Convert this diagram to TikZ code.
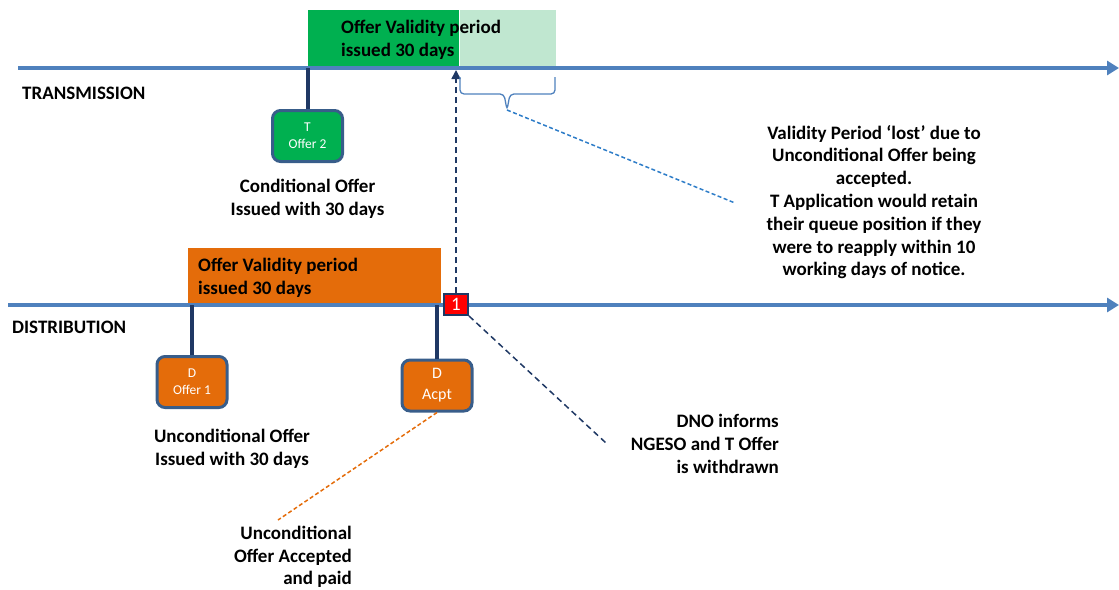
\documentclass[tikz,border=0pt]{standalone}
\usepackage{fontspec}
\setmainfont{Carlito}
\usetikzlibrary{arrows.meta,positioning}
\definecolor{axisblue}{RGB}{79,129,189}
\definecolor{edgeblue}{RGB}{56,93,138}
\definecolor{navy}{RGB}{31,56,100}
\definecolor{tgreen}{RGB}{0,176,80}
\definecolor{tlight}{RGB}{192,231,208}
\definecolor{dorange}{RGB}{228,108,10}
\definecolor{lostblue}{RGB}{46,125,200}
\tikzset{
  axis/.style={draw=axisblue,line width=4.5pt,-{Triangle[length=12pt,width=14pt]}},
  stem/.style={draw=navy,line width=4pt},
  offer/.style={draw=edgeblue,line width=3pt,rounded corners=8pt,minimum width=70pt,minimum height=51pt,text=white,align=center,inner sep=0pt,font=\fontsize{13.5}{17}\selectfont},
  period/.style={minimum height=58pt,anchor=south west,inner sep=0pt},
  lbl/.style={font=\fontsize{19}{22.8}\selectfont\bfseries,inner sep=0pt},
  cue/.style={draw=navy,line width=1.5pt,dash pattern=on 6pt off 4pt},
}
\newcommand{\twoline}[2]{#1\\#2}

\begin{document}
\begin{tikzpicture}[x=1pt,y=-1pt]
  \useasboundingbox (0,0) rectangle (1119,589);
  \coordinate (tl) at (18,68);
  \coordinate (tr) at (1119,68);
  \coordinate (dl) at (8,305);
  \coordinate (dr) at (1119,305);
  \node[period,fill=tgreen,minimum width=151pt] (tvalid) at (308,68) {};
  \node[period,fill=tlight,minimum width=96pt] (tlost) at (tvalid.south east) {};
  \node[lbl,anchor=west,align=left] (ttext) at (341,40) {\twoline{Offer Validity period}{issued 30 days}};
  \node[period,fill=dorange,minimum width=253pt,minimum height=57pt] (dvalid) at (188,305) {};
  \node[lbl,anchor=west,align=left] (dtext) at (198,278) {\twoline{Offer Validity period}{issued 30 days}};
  \draw[axis] (tl) -- (tr);
  \draw[axis] (dl) -- (dr);
  \node[lbl,anchor=west] (tlabel) at (22,93) {TRANSMISSION};
  \node[lbl,anchor=west] (dlabel) at (12,327) {DISTRIBUTION};
  \node[offer,fill=tgreen] (t2) at (307.5,136) {\twoline{T}{Offer 2}};
  \node[offer,fill=dorange] (d1) at (192,382) {\twoline{D}{Offer 1}};
  \node[offer,fill=dorange,font=\fontsize{16}{21}\selectfont] (dacpt) at (437,385.5) {\twoline{D}{Acpt}};
  \draw[stem] (t2.north) -- (t2.north |- tl);
  \draw[stem] (d1.north) -- (d1.north |- dl);
  \draw[stem] (dacpt.north) -- (dacpt.north |- dl);
  \node[lbl,below=16pt of t2,align=center] (t2cap) {\twoline{Conditional Offer}{Issued with 30 days}};
  \node[lbl,below=20pt of d1,xshift=40pt,align=center] (d1cap) {\twoline{Unconditional Offer}{Issued with 30 days}};
  \node[draw=navy,line width=2pt,fill=red,text=white,minimum width=24pt,minimum height=21pt,inner sep=0pt,font=\fontsize{19}{19}\selectfont] (m1) at (456,304.5) {1};
  \draw[cue,-{Triangle[length=9pt,width=9pt]},shorten >=2pt] (m1.north) -- (m1.north |- tl);
  \coordinate (tip) at (507,110);
  \draw[axisblue,line width=1.3pt,rounded corners=4pt] (460,77) |- (504,94) -- (tip) -- (510,94) -| (555,77);
  \coordinate (noteend) at (735,203);
  \draw[lostblue,line width=1.5pt,dash pattern=on 4pt off 2.5pt] (tip) -- (noteend);
  \node[lbl,align=center] (note) at (874,202) {Validity Period ‘lost’ due to\\Unconditional Offer being\\accepted.\\T Application would retain\\their queue position if they\\were to reapply within 10\\working days of notice.};
  \coordinate (dnoend) at (606,443);
  \draw[cue] (m1.south east) -- (dnoend);
  \node[lbl,anchor=east,align=right] (dno) at (779,444) {DNO informs\\NGESO and T Offer\\is withdrawn};
  \coordinate (paidend) at (278,520);
  \draw[dorange,line width=1.5pt,dash pattern=on 4pt off 2.5pt] (dacpt.south) -- (paidend);
  \node[lbl,anchor=east,align=right] (paid) at (352,557) {Unconditional\\Offer Accepted\\and paid};
\end{tikzpicture}
\end{document}
